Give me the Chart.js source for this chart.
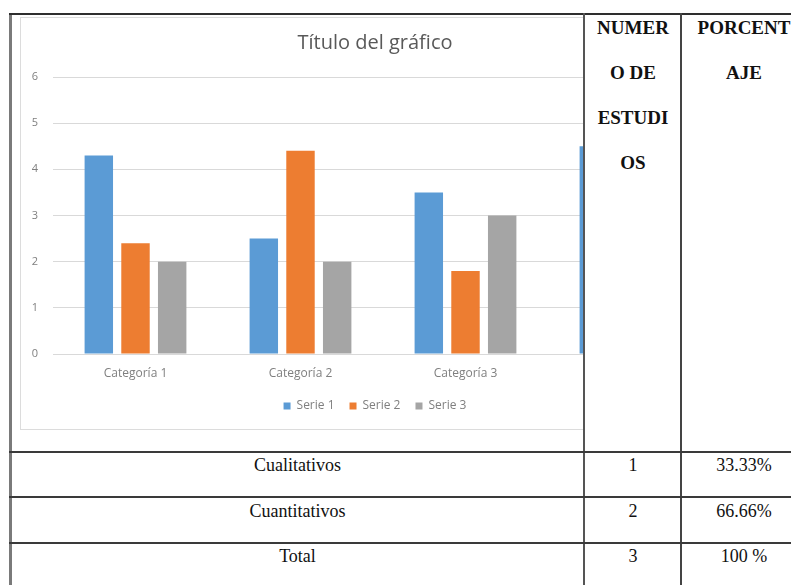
<!DOCTYPE html>
<html lang="es">
<head>
<meta charset="utf-8">
<title>Título del gráfico</title>
<script src="https://cdn.jsdelivr.net/npm/chart.js@4/dist/chart.umd.min.js"></script>
<style>
  body { margin: 0; background: #fff; width: 791px; height: 585px; overflow: hidden; position: relative; font-family: "Liberation Serif", "Times New Roman", serif; color: #111; }
  .ln { position: absolute; background: #3a3a3a; }
  .clip { position: absolute; left: 12px; top: 15px; width: 571px; height: 436px; overflow: hidden; }
  .frame { position: absolute; left: 8px; top: 2px; width: 708px; height: 413px; border: 1.5px solid #dcdcdc; box-sizing: border-box; }
  .frame canvas { position: absolute; left: 0; top: 0; }
  .hd { position: absolute; text-align: center; font-weight: bold; font-size: 19px; line-height: 45px; white-space: nowrap; }
  .cell { position: absolute; text-align: center; font-size: 18px; line-height: 24px; white-space: nowrap; }
</style>
</head>
<body>
<!-- bordes de la tabla -->
<div class="ln" style="left:9px; top:13px; width:3px; height:572px; background:#7a7a7a"></div>
<div class="ln" style="left:9px; top:13px; width:782px; height:2px; background:#2e2e2e"></div>
<div class="ln" style="left:583px; top:13px; width:2px; height:572px; background:#555"></div>
<div class="ln" style="left:680px; top:13px; width:2px; height:572px; background:#444"></div>
<div class="ln" style="left:9px; top:451px; width:782px; height:2px"></div>
<div class="ln" style="left:9px; top:496px; width:782px; height:2px"></div>
<div class="ln" style="left:9px; top:542px; width:782px; height:2px"></div>

<div class="clip">
  <div class="frame"><canvas id="grafico" width="708" height="413"></canvas></div>
</div>

<div class="hd" style="left:585px; top:5px; width:96px">NUMER<br>O DE<br>ESTUDI<br>OS</div>
<div class="hd" style="left:683px; top:5px; width:122px">PORCENT<br>AJE</div>

<div class="cell" style="left:12px; top:453px; width:571px">Cualitativos</div>
<div class="cell" style="left:585px; top:453px; width:96px">1</div>
<div class="cell" style="left:683px; top:453px; width:122px">33.33%</div>
<div class="cell" style="left:12px; top:499px; width:571px">Cuantitativos</div>
<div class="cell" style="left:585px; top:499px; width:96px">2</div>
<div class="cell" style="left:683px; top:499px; width:122px">66.66%</div>
<div class="cell" style="left:12px; top:544px; width:571px">Total</div>
<div class="cell" style="left:585px; top:544px; width:96px">3</div>
<div class="cell" style="left:683px; top:544px; width:122px">100 %</div>

<script>
const categories = ['Categoría 1', 'Categoría 2', 'Categoría 3', 'Categoría 4'];
const serie1 = [4.3, 2.5, 3.5, 4.5];
const serie2 = [2.4, 4.4, 1.8, null];
const serie3 = [2, 2, 3, null];
const seriesNames = ['Serie 1', 'Serie 2', 'Serie 3'];
const seriesColors = ['#5b9bd5', '#ed7d31', '#a5a5a5'];
const yTicks = [0, 1, 2, 3, 4, 5, 6];

const fuente = { family: 'Open Sans', size: 12 };

// la leyenda ocupa menos alto que el que calcula Chart.js
const legendHeight = {
    id: 'legendHeight',
    beforeInit(chart) {
        const fit = chart.legend.fit;
        chart.legend.fit = function () {
            fit.call(this);
            this.height = 46;
        };
    }
};

function serie(i, data) {
    return {
        label: seriesNames[i],
        data,
        backgroundColor: seriesColors[i],
        borderWidth: 0,
        categoryPercentage: 0.667,
        barPercentage: 0.775
    };
}

new Chart(document.getElementById('grafico'), {
    type: 'bar',
    data: {
        labels: categories,
        datasets: [serie(0, serie1), serie(1, serie2), serie(2, serie3)]
    },
    options: {
        responsive: false,
        animation: false,
        layout: { padding: 0 },
        plugins: {
            title: {
                display: true,
                text: 'Título del gráfico',
                color: '#595959',
                font: { family: 'Open Sans', size: 20, weight: 'normal' },
                padding: { top: 13, bottom: 22 }
            },
            legend: {
                position: 'bottom',
                labels: {
                    boxWidth: 7,
                    boxHeight: 7,
                    padding: 15,
                    color: '#7f7f7f',
                    font: fuente
                }
            },
            tooltip: { enabled: false }
        },
        scales: {
            x: {
                grid: { display: false, drawTicks: false },
                border: { display: true, color: '#d9d9d9', width: 1 },
                ticks: { color: '#7f7f7f', font: fuente, padding: 12.5 },
                afterFit: s => { s.height = 31; }
            },
            y: {
                min: yTicks[0],
                max: yTicks[yTicks.length - 1],
                grid: { color: '#d9d9d9', drawTicks: false },
                border: { display: false },
                ticks: { stepSize: 1, color: '#7f7f7f', font: { family: 'Open Sans', size: 11 }, padding: 15 },
                afterFit: s => { s.width = 32; }
            },
            // margen derecho vacío del área de trazado
            margen: {
                position: 'right',
                grid: { display: false, drawTicks: false },
                border: { display: false },
                ticks: { display: false },
                afterFit: s => { s.width = 16; }
            }
        }
    },
    plugins: [legendHeight]
});
</script>
</body>
</html>
